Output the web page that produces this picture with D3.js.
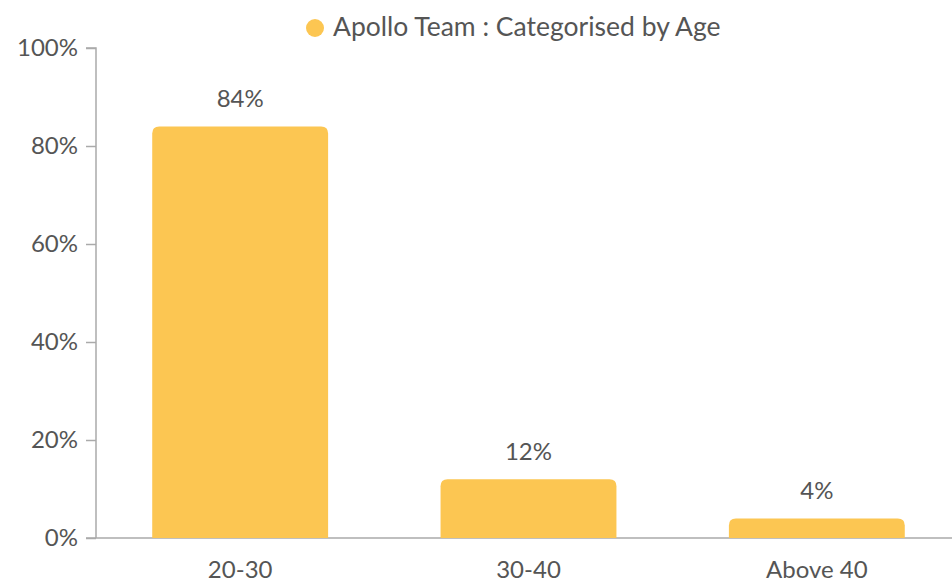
<!DOCTYPE html>
<html>
<head>
<meta charset="utf-8">
<script src="https://cdn.jsdelivr.net/npm/d3@7"></script>
<style>
  html, body { margin: 0; padding: 0; background: #fff; }
  svg { display: block; font-family: Lato, "Open Sans", sans-serif; }
</style>
</head>
<body>
<svg id="chart" width="952" height="582"></svg>
<script>
const categories = ["20-30", "30-40", "Above 40"];
const values = [84, 12, 4];
const yTicks = [0, 20, 40, 60, 80, 100];
const seriesName = "Apollo Team : Categorised by Age";

const svg = d3.select("#chart");
const color = "#FCC652";
const textColor = "#555";
const axisColor = "#aaa";
const fs = "24px";

const x = d3.scaleBand().domain(categories).range([96, 961]).paddingInner(0.39).paddingOuter(0.195);
const y = d3.scaleLinear().domain([0, 100]).range([538, 48]);

// y axis
const yAxis = svg.append("g").attr("transform", "translate(96,0)")
  .call(d3.axisLeft(y).tickValues(yTicks).tickFormat(d => d + "%").tickSize(10).tickPadding(8));
yAxis.select(".domain").attr("stroke", axisColor).attr("stroke-width", 1.5).attr("d", `M-10,${y(100)}H0V${y(0)}`);
yAxis.selectAll(".tick line").attr("stroke", axisColor).attr("stroke-width", 1.5);
yAxis.selectAll(".tick text").attr("fill", textColor).style("font-size", fs).style("font-family", "Lato, sans-serif");

// x axis
const xAxis = svg.append("g").attr("transform", `translate(0,${y(0)})`)
  .call(d3.axisBottom(x).tickSize(0).tickPadding(40));
xAxis.select(".domain").attr("stroke", axisColor).attr("stroke-width", 1.5).attr("d", `M86,0H952`);
xAxis.selectAll(".tick text").attr("dy", 0).attr("fill", textColor).style("font-size", fs).style("font-family", "Lato, sans-serif");

// bars with rounded top corners
const r = 7;
function barPath(d, i) {
  const x0 = x(categories[i]), w = x.bandwidth();
  const top = y(d), bot = y(0);
  const rr = Math.min(r, (bot - top));
  return `M${x0},${bot}V${top + rr}Q${x0},${top} ${x0 + rr},${top}H${x0 + w - rr}Q${x0 + w},${top} ${x0 + w},${top + rr}V${bot}Z`;
}
svg.append("g").selectAll("path").data(values).join("path")
  .attr("d", barPath).attr("fill", color);

// value labels
svg.append("g").selectAll("text").data(values).join("text")
  .attr("x", (d, i) => x(categories[i]) + x.bandwidth() / 2)
  .attr("y", d => y(d) - 19)
  .attr("text-anchor", "middle")
  .attr("fill", textColor)
  .style("font-size", fs)
  .text(d => d + "%");

// legend
const lg = svg.append("g");
lg.append("circle").attr("cx", 315).attr("cy", 28).attr("r", 9).attr("fill", color);
lg.append("text").attr("x", 333).attr("y", 36).attr("fill", textColor)
  .style("font-size", "26.5px").text(seriesName);
</script>
</body>
</html>
